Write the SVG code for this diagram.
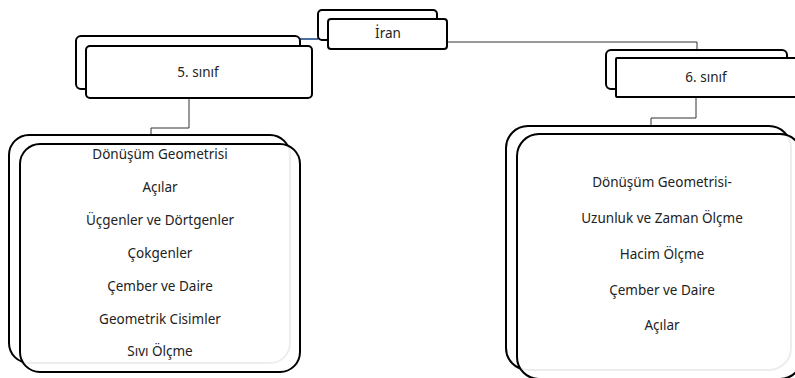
<svg xmlns="http://www.w3.org/2000/svg" width="795" height="378" viewBox="0 0 795 378">
<style>
.back{fill:#fff;stroke:#000;stroke-width:2}
.front{fill:#fff;fill-opacity:0.93;stroke:#000;stroke-width:2}
.solid{fill:#fff;stroke:#000;stroke-width:2}
.conn{fill:none;stroke:#333;stroke-width:1}
.t{font-family:"Noto Sans","Open Sans",sans-serif;font-size:13.5px;fill:#222;text-anchor:middle}
</style>
<rect width="795" height="378" fill="#fff"/>
<g id="connectors">
<line x1="300" y1="39" x2="318" y2="39" stroke="#4a6fa5" stroke-width="2"/>
<polyline class="conn" points="447,42 697,42 697,50"/>
<polyline class="conn" points="189,98 189,128 151,128 151,135"/>
<polyline class="conn" points="696,97 696,118 651,118 651,126"/>
</g>
<g id="iran">
<rect class="back" x="318" y="10" width="119" height="30" rx="4"/>
<rect class="solid" x="328" y="19" width="119" height="30" rx="3"/>
<text class="t" x="388" y="38">İran</text>
</g>
<g id="sinif5">
<rect class="back" x="76" y="36" width="224" height="53" rx="5"/>
<rect class="solid" x="86" y="46" width="226" height="52" rx="4"/>
<text class="t" x="198" y="77">5. sınıf</text>
</g>
<g id="sinif6">
<rect class="back" x="606" y="50" width="181" height="39" rx="5"/>
<rect class="solid" x="616" y="58" width="181" height="39" rx="1"/>
<text class="t" x="706" y="82">6. sınıf</text>
</g>
<g id="konular5">
<rect class="back" x="9" y="135" width="281" height="228" rx="20"/>
<rect class="front" x="20" y="144" width="280" height="228" rx="20"/>
<text class="t" x="160" y="159">Dönüşüm Geometrisi</text>
<text class="t" x="160" y="192">Açılar</text>
<text class="t" x="160" y="225">Üçgenler ve Dörtgenler</text>
<text class="t" x="160" y="258">Çokgenler</text>
<text class="t" x="160" y="291">Çember ve Daire</text>
<text class="t" x="160" y="324">Geometrik Cisimler</text>
<text class="t" x="160" y="356">Sıvı Ölçme</text>
</g>
<g id="konular6">
<rect class="back" x="506" y="126" width="285" height="244" rx="22"/>
<rect class="front" x="517" y="134" width="285" height="245" rx="22"/>
<text class="t" x="662" y="187">Dönüşüm Geometrisi-</text>
<text class="t" x="662" y="223">Uzunluk ve Zaman Ölçme</text>
<text class="t" x="662" y="259">Hacim Ölçme</text>
<text class="t" x="662" y="295">Çember ve Daire</text>
<text class="t" x="662" y="330">Açılar</text>
</g>
</svg>
